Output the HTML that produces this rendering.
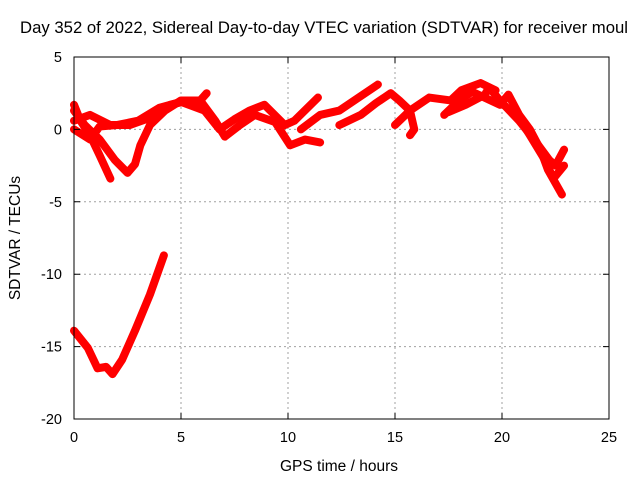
<!DOCTYPE html>
<html><head><meta charset="utf-8"><style>
html,body{margin:0;padding:0;background:#fff;overflow:hidden}
svg{display:block;font-family:"Liberation Sans",sans-serif}
</style></head><body>
<svg id="chart" width="640" height="480" viewBox="0 0 640 480">
<text x="20" y="33" font-size="16.5" textLength="608" lengthAdjust="spacingAndGlyphs" fill="#000">Day 352 of 2022, Sidereal Day-to-day VTEC variation (SDTVAR) for receiver moul</text>
<g id="grid"></g>
<g id="series"></g>
<rect x="74" y="57" width="535" height="362" fill="none" stroke="#000" stroke-width="1"/>
<g id="ticks"></g>
<text x="339" y="471" font-size="15.5" text-anchor="middle">GPS time / hours</text>
<text transform="translate(20,238) rotate(-90)" font-size="15.5" text-anchor="middle">SDTVAR / TECUs</text>
</svg>
<script>
const xTicks=[0,5,10,15,20,25];
const yTicks=[5,0,-5,-10,-15,-20];
const s1t=[0,0.65,1.1,1.5,1.8,2.25,2.85,3.55,4.2];
const s1v=[-13.9,-15.1,-16.5,-16.4,-16.9,-15.9,-13.9,-11.4,-8.7];
const s2t=[0,0.3,0.75,1.2,1.7];
const s2v=[1.7,0.6,-0.4,-1.8,-3.4];
const s3t=[0,0.5,1.2,1.9,2.5,2.85,3.1,3.55,4.25,5,5.9,6.2];
const s3v=[1.3,0.3,-0.7,-2.1,-3,-2.4,-1.1,0.3,1.3,2,2,2.5];
const s4t=[0,0.75,1.7,2.6,3.55,4.5,5.4,5.9,6.6,7.05,7.75,8.45,9.4,10.1,10.8,11.5];
const s4v=[0.6,1,0.3,0.3,0.8,1.7,2,2,0.6,-0.5,0.3,1,0.5,-1.1,-0.7,-0.9];
const s5t=[0,0.75,1.2,2,3,4,5,6.1,6.8,7.5,8.2,8.9,9.85,10.3,11.4];
const s5v=[0,-0.7,0.2,0.3,0.6,1.5,1.9,1.3,0,0.7,1.3,1.7,0.3,0.6,2.2];
const s6t=[10.6,11.5,12.4,13.1,14.2];
const s6v=[0,1,1.3,2,3.1];
const s7t=[12.4,13.4,14.1,14.8,15.2,15.7,15.9,15.7];
const s7v=[0.3,1,1.8,2.5,2,1.3,0,-0.4];
const s8t=[15,15.7,16.6,17.6,18.1,19,19.7];
const s8v=[0.3,1.3,2.2,2,2.7,3.2,2.7];
const s9t=[17.3,18,18.6,19.9,20.3,20.8,21.3,21.8,22.15,22.8];
const s9v=[1,2,2.6,1.7,2.4,1,0,-1.4,-2.8,-4.5];
const s10t=[17.5,18.3,19.2,19.4,19.9,20.8,21.5,22.2,22.5,22.9];
const s10v=[1.2,1.7,2.4,2.9,2,0.6,-0.7,-2.1,-2.5,-1.4];
const s11t=[20.5,21.3,22,22.4,22.9];
const s11v=[1.5,-0.4,-2.1,-3.4,-2.5];
const seriesT=[s1t,s2t,s3t,s4t,s5t,s6t,s7t,s8t,s9t,s10t,s11t];
const seriesV=[s1v,s2v,s3v,s4v,s5v,s6v,s7v,s8v,s9v,s10v,s11v];
const NS='http://www.w3.org/2000/svg';
const X0=74,X1=609,Y0=419,Y1=57,xmin=0,xmax=25,ymin=-20,ymax=5;
function xs(t){return X0+(t-xmin)/(xmax-xmin)*(X1-X0);}
function ys(v){return Y0-(v-ymin)/(ymax-ymin)*(Y0-Y1);}
const grid=document.getElementById('grid'),ticks=document.getElementById('ticks'),ser=document.getElementById('series');
xTicks.forEach(t=>{
 const x=xs(t);
 if(t>xmin&&t<xmax){const l=document.createElementNS(NS,'line');
 
 
 l.setAttribute('x1',x);l.setAttribute('x2',x);l.setAttribute('y1',Y1);l.setAttribute('y2',Y0);
 l.setAttribute('stroke','#a0a0a0');l.setAttribute('stroke-dasharray','2,3');grid.appendChild(l);}
 const m=document.createElementNS(NS,'path');
 
 
 m.setAttribute('d',`M${x},${Y0}v-6M${x},${Y1}v6`);m.setAttribute('stroke','#000');ticks.appendChild(m);
 const tx=document.createElementNS(NS,'text');
 
 
 tx.setAttribute('x',x);tx.setAttribute('y',442);tx.setAttribute('font-size','14.5');tx.setAttribute('text-anchor','middle');
 tx.textContent=t;ticks.appendChild(tx);
});
yTicks.forEach(v=>{
 const y=ys(v);
 if(v>ymin&&v<ymax){const l=document.createElementNS(NS,'line');
 
 
 l.setAttribute('x1',X0);l.setAttribute('x2',X1);l.setAttribute('y1',y);l.setAttribute('y2',y);
 l.setAttribute('stroke','#a0a0a0');l.setAttribute('stroke-dasharray','2,3');grid.appendChild(l);}
 const m=document.createElementNS(NS,'path');
 
 
 m.setAttribute('d',`M${X0},${y}h6M${X1},${y}h-6`);m.setAttribute('stroke','#000');ticks.appendChild(m);
 const tx=document.createElementNS(NS,'text');
 
 
 tx.setAttribute('x',62);tx.setAttribute('y',y+5);tx.setAttribute('font-size','14.5');tx.setAttribute('text-anchor','end');
 tx.textContent=v;ticks.appendChild(tx);
});
seriesT.forEach((ts,i)=>{
 const vs=seriesV[i];
 const p=document.createElementNS(NS,'polyline');
 
 
 p.setAttribute('points',ts.map((t,j)=>xs(t)+','+ys(vs[j])).join(' '));
 p.setAttribute('fill','none');p.setAttribute('stroke','#ff0000');p.setAttribute('stroke-width','8');
 p.setAttribute('stroke-linejoin','round');p.setAttribute('stroke-linecap','round');
 ser.appendChild(p);
});
</script>
</body></html>
